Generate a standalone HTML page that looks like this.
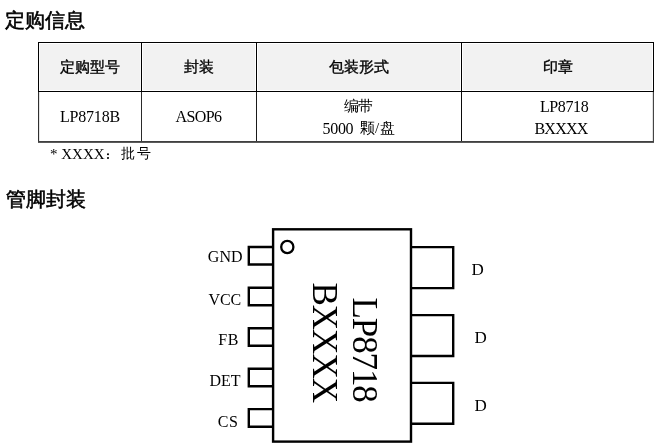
<!DOCTYPE html>
<html><head><meta charset="utf-8">
<style>
html,body{margin:0;padding:0;background:#fff;}
body{width:664px;height:447px;position:relative;overflow:hidden;will-change:transform;font-family:"Liberation Serif",serif;color:#000;}
.t{position:absolute;white-space:nowrap;line-height:1;}
.h{font-family:"Liberation Sans",sans-serif;-webkit-text-stroke:0.35px #000;}
</style></head><body>
<div class="t h" style="left:4.7px;top:9.6px;font-size:20px;-webkit-text-stroke:0.55px #000;">定购信息</div>
<svg style="position:absolute;left:0;top:0" width="664" height="447" viewBox="0 0 664 447">
  <rect x="39.5" y="44" width="101" height="46" fill="#f2f2f2"/>
  <rect x="143" y="44" width="112" height="46" fill="#f2f2f2"/>
  <rect x="258" y="44" width="202" height="46" fill="#f2f2f2"/>
  <rect x="463" y="44" width="189" height="46" fill="#f2f2f2"/>
  <circle cx="108" cy="154.3" r="1.05" fill="#000"/><circle cx="108" cy="158" r="1.05" fill="#000"/>
  <g shape-rendering="crispEdges">
    <rect x="38" y="42" width="616" height="1" fill="#000"/>
    <rect x="38" y="91" width="616" height="1" fill="#000"/>
    <rect x="38" y="42" width="1" height="50" fill="#000"/>
    <rect x="141" y="42" width="1" height="50" fill="#000"/>
    <rect x="256" y="42" width="1" height="50" fill="#000"/>
    <rect x="461" y="42" width="1" height="50" fill="#000"/>
    <rect x="653" y="42" width="1" height="50" fill="#000"/>
    <rect x="38" y="92" width="1" height="49" fill="#303030"/>
    <rect x="39" y="92" width="1" height="49" fill="#e4e4e4"/>
    <rect x="141" y="92" width="1" height="49" fill="#2a2a2a"/>
    <rect x="256" y="92" width="1" height="49" fill="#1a1a1a"/>
    <rect x="461" y="92" width="1" height="49" fill="#0a0a0a"/>
    <rect x="653" y="92" width="1" height="49" fill="#444"/>
    <rect x="652" y="92" width="1" height="49" fill="#e0e0e0"/>
    <rect x="38" y="141" width="616" height="1" fill="#404040"/>
    <rect x="38" y="142" width="616" height="1" fill="#5a5a5a"/>
  </g>
  <g stroke="#000" stroke-width="2.4" fill="none">
    <rect x="273.1" y="229.3" width="137.9" height="212.3"/>
    <circle cx="287.3" cy="247" r="6.1" stroke-width="2.3"/>
    <path d="M273 247H248.8V264.5H273"/>
    <path d="M273 287.7H248.8V305.3H273"/>
    <path d="M273 328.2H248.8V345.8H273"/>
    <path d="M273 368.7H248.8V386.3H273"/>
    <path d="M273 409.1H248.8V426.7H273"/>
    <path d="M411 247.1H453.2V288.1H411"/>
    <path d="M411 315.1H453.2V356H411"/>
    <path d="M411 382.9H453.2V423.8H411"/>
  </g>
  <g font-family="Liberation Serif" font-size="35">
    <text transform="translate(353,297.5) rotate(90)" letter-spacing="-1.1">LP8718</text>
    <text transform="translate(313,282.5) rotate(90)" letter-spacing="-1">BXXXX</text>
  </g>
  <g font-family="Liberation Serif" font-size="16" text-anchor="end">
    <text x="242.5" y="262">GND</text>
    <text x="241.3" y="305">VCC</text>
    <text x="239" y="345" letter-spacing="0.6">FB</text>
    <text x="240.5" y="386">DET</text>
    <text x="238.5" y="426.5" letter-spacing="0.6">CS</text>
  </g>
  <g font-family="Liberation Serif" font-size="17">
    <text x="471.5" y="275">D</text>
    <text x="474.5" y="343">D</text>
    <text x="474.5" y="411">D</text>
  </g>
</svg>
<div class="t h" style="left:39px;top:58.6px;width:101px;text-align:center;font-size:15px;">定购型号</div>
<div class="t h" style="left:141.5px;top:58.6px;width:115px;text-align:center;font-size:15px;">封装</div>
<div class="t h" style="left:256.5px;top:58.6px;width:205px;text-align:center;font-size:15px;">包装形式</div>
<div class="t h" style="left:461.7px;top:58.6px;width:192px;text-align:center;font-size:15px;">印章</div>
<div class="t" style="left:60px;top:109.4px;font-size:16px;letter-spacing:-0.2px;">LP8718B</div>
<div class="t" style="left:175.5px;top:109.4px;font-size:16px;letter-spacing:-0.6px;">ASOP6</div>
<div class="t" style="left:343.5px;top:99px;font-size:15px;letter-spacing:-0.8px;">编带</div>
<div class="t" style="left:322.5px;top:120.5px;font-size:15px;"><span style="white-space:pre;font-size:16px;letter-spacing:-0.3px">5000 </span><span style="margin-left:3px;position:relative;top:-1px">颗<span style="margin-right:1px">/</span>盘</span></div>
<div class="t" style="left:540px;top:98.6px;font-size:16px;letter-spacing:-0.4px;">LP8718</div>
<div class="t" style="left:534.5px;top:120.6px;font-size:16px;letter-spacing:-0.8px;">BXXXX</div>
<div class="t" style="left:50px;top:147px;font-size:15px;">* XXXX</div>

<div class="t" style="left:120.8px;top:147.2px;font-size:14px;letter-spacing:2.5px">批号</div>
<div class="t h" style="left:5.7px;top:189.4px;font-size:20px;-webkit-text-stroke:0.55px #000;">管脚封装</div>
</body></html>
